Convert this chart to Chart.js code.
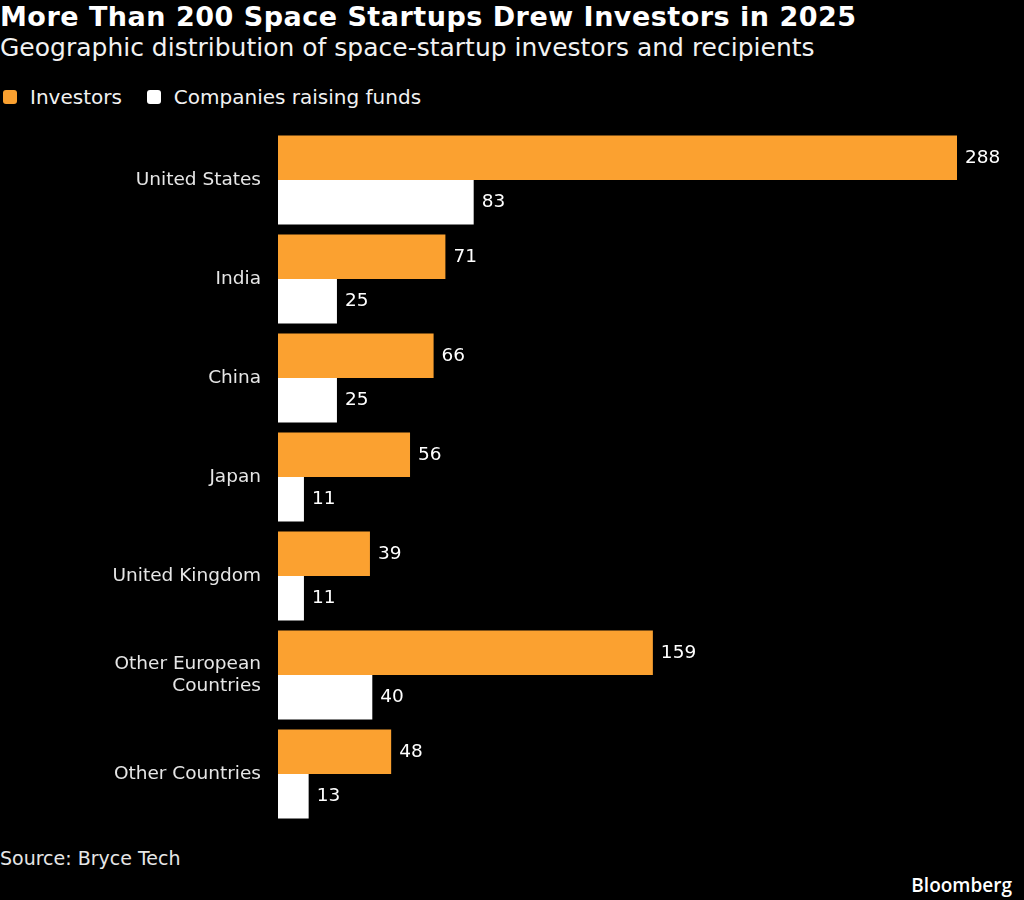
<!DOCTYPE html>
<html>
<head>
<meta charset="utf-8">
<script src="https://cdn.jsdelivr.net/npm/chart.js@4"></script>
<style>
  html, body { margin: 0; padding: 0; background: #000; }
  body { width: 1024px; height: 900px; position: relative; overflow: hidden; font-family: "DejaVu Sans", sans-serif; color: #fff; }
  #title { position: absolute; left: 0; top: 1px; font-size: 27px; letter-spacing: 0.5px; font-weight: bold; white-space: nowrap; line-height: 32px; }
  #subtitle { position: absolute; left: 0; top: 33px; font-size: 25px; color: #f2f2f2; white-space: nowrap; line-height: 30px; }
  #legend { position: absolute; left: 3px; top: 85px; font-size: 20px; color: #f2f2f2; display: flex; align-items: center; line-height: 24px; }
  .item { display: flex; align-items: center; margin-right: 25px; }
  .box { width: 14px; height: 14px; border-radius: 3px; margin-right: 13px; }
  #wrap { position: absolute; left: 0; top: 120px; width: 1024px; height: 720px; }
  #source { position: absolute; left: 0; top: 847px; font-size: 19px; color: #e6e6e6; }
  #logo { position: absolute; right: 12px; top: 872px; font-family: "Open Sans", sans-serif; font-weight: 600; font-size: 19px; color: #fff; }
</style>
</head>
<body>
<div id="title">More Than 200 Space Startups Drew Investors in 2025</div>
<div id="subtitle">Geographic distribution of space-startup investors and recipients</div>
<div id="legend"></div>
<div id="wrap"><canvas id="chart"></canvas></div>
<div id="source">Source: Bryce Tech</div>
<div id="logo">Bloomberg</div>
<script>
const countries = [
  "United States",
  "India",
  "China",
  "Japan",
  "United Kingdom",
  ["Other European", "Countries"],
  "Other Countries"
];
const investors = [288, 71, 66, 56, 39, 159, 48];
const companies = [83, 25, 25, 11, 11, 40, 13];
const seriesNames = ["Investors", "Companies raising funds"];
const seriesColors = ["#fba130", "#ffffff"];

// legend built from the series names/colours
const legend = document.getElementById("legend");
seriesNames.forEach((name, i) => {
  const item = document.createElement("div");
  item.className = "item";
  item.innerHTML = `<span class="box" style="background:${seriesColors[i]}"></span>${name}`;
  legend.appendChild(item);
});

// value labels at the end of each bar
const barValues = {
  id: "barValues",
  afterDatasetsDraw(chart) {
    const ctx = chart.ctx;
    ctx.save();
    ctx.font = "18.5px 'DejaVu Sans'";
    ctx.fillStyle = "#ffffff";
    ctx.textAlign = "left";
    ctx.textBaseline = "middle";
    chart.data.datasets.forEach((ds, d) => {
      chart.getDatasetMeta(d).data.forEach((bar, i) => {
        ctx.fillText(ds.data[i], bar.x + 8, bar.y);
      });
    });
    ctx.restore();
  }
};

new Chart(document.getElementById("chart"), {
  type: "bar",
  data: {
    labels: countries,
    datasets: [
      { label: seriesNames[0], data: investors, backgroundColor: seriesColors[0] },
      { label: seriesNames[1], data: companies, backgroundColor: seriesColors[1] }
    ]
  },
  options: {
    indexAxis: "y",
    responsive: true,
    maintainAspectRatio: false,
    animation: false,
    layout: { padding: { top: 10.5, bottom: 16.5, left: 0, right: 67 } },
    datasets: { bar: { categoryPercentage: 0.9, barPercentage: 1.0 } },
    plugins: { legend: { display: false }, tooltip: { enabled: false } },
    scales: {
      x: { display: false, min: 0, max: 288 },
      y: {
        grid: { display: false, drawTicks: false },
        border: { display: false },
        ticks: {
          color: "#e6e6e6",
          padding: 17,
          font: { family: "DejaVu Sans", size: 18.5, lineHeight: 1.2 }
        },
        afterFit(axis) {
          axis.width = 278;
          axis.paddingTop = 0;
          axis.paddingBottom = 0;
        }
      }
    }
  },
  plugins: [barValues]
});
</script>
</body>
</html>
